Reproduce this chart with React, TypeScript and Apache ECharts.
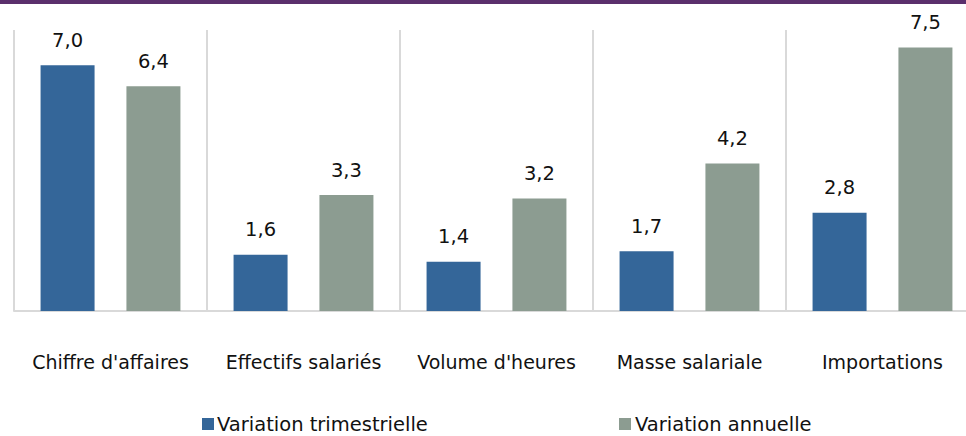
import React, { useEffect, useRef } from "react";
import * as echarts from "echarts";

const categories = ["Chiffre d'affaires", "Effectifs salariés", "Volume d'heures", "Masse salariale", "Importations"];
const trimestrielle = [7.0, 1.6, 1.4, 1.7, 2.8];
const annuelle = [6.4, 3.3, 3.2, 4.2, 7.5];
const seriesNames = ["Variation trimestrielle", "Variation annuelle"];

const FONT = "DejaVu Sans";

export default function App() {
  const ref = useRef<HTMLDivElement>(null);
  useEffect(() => {
    const chart = echarts.init(ref.current!, null, { renderer: "svg" });
    const fmt = (p: any) => Number(p.value).toFixed(1).replace(".", ",");
    chart.setOption({
      animation: false,
      textStyle: { fontFamily: FONT },
      graphic: [
        { type: "rect", shape: { x: 0, y: 0, width: 966, height: 4 }, style: { fill: "#5B2F6C" } },
      ],
      legend: [
        {
          data: [seriesNames[0]],
          left: 202,
          top: 414,
          itemWidth: 12,
          itemHeight: 12,
          padding: 0,
          icon: "rect",
          textStyle: { fontFamily: FONT, fontSize: 19.5, color: "#111", padding: [0, 0, 0, -2] },
        },
        {
          data: [seriesNames[1]],
          left: 619,
          top: 414,
          itemWidth: 12,
          itemHeight: 12,
          padding: 0,
          icon: "rect",
          textStyle: { fontFamily: FONT, fontSize: 19.5, color: "#111", padding: [0, 0, 0, -1] },
        },
      ],
      grid: { left: 14, width: 965, top: 30, height: 281, containLabel: false, outerBoundsMode: "none" },
      xAxis: {
        type: "category",
        data: categories,
        axisLine: { show: true, lineStyle: { color: "#d9d9d9", width: 2 } },
        axisTick: { show: false },
        splitLine: { show: true, interval: 0, lineStyle: { color: "#d9d9d9", width: 2 } },
        axisLabel: { interval: 0, hideOverlap: false, margin: 41, fontFamily: FONT, fontSize: 19, color: "#111" },
      },
      yAxis: { type: "value", min: 0, max: 8, show: false, splitLine: { show: false } },
      series: [
        {
          name: seriesNames[0],
          type: "bar",
          data: trimestrielle,
          barWidth: 54,
          barGap: "59%",
          itemStyle: { color: "#346699" },
          label: { show: true, position: "top", distance: 15, formatter: fmt, fontFamily: FONT, fontSize: 19.5, color: "#111" },
        },
        {
          name: seriesNames[1],
          type: "bar",
          data: annuelle,
          barWidth: 54,
          itemStyle: { color: "#8C9C91" },
          label: { show: true, position: "top", distance: 15, formatter: fmt, fontFamily: FONT, fontSize: 19.5, color: "#111" },
        },
      ],
    });
    return () => chart.dispose();
  }, []);
  return <div ref={ref} style={{ width: 966, height: 436, position: "absolute", left: 0, top: 0 }} />;
}
